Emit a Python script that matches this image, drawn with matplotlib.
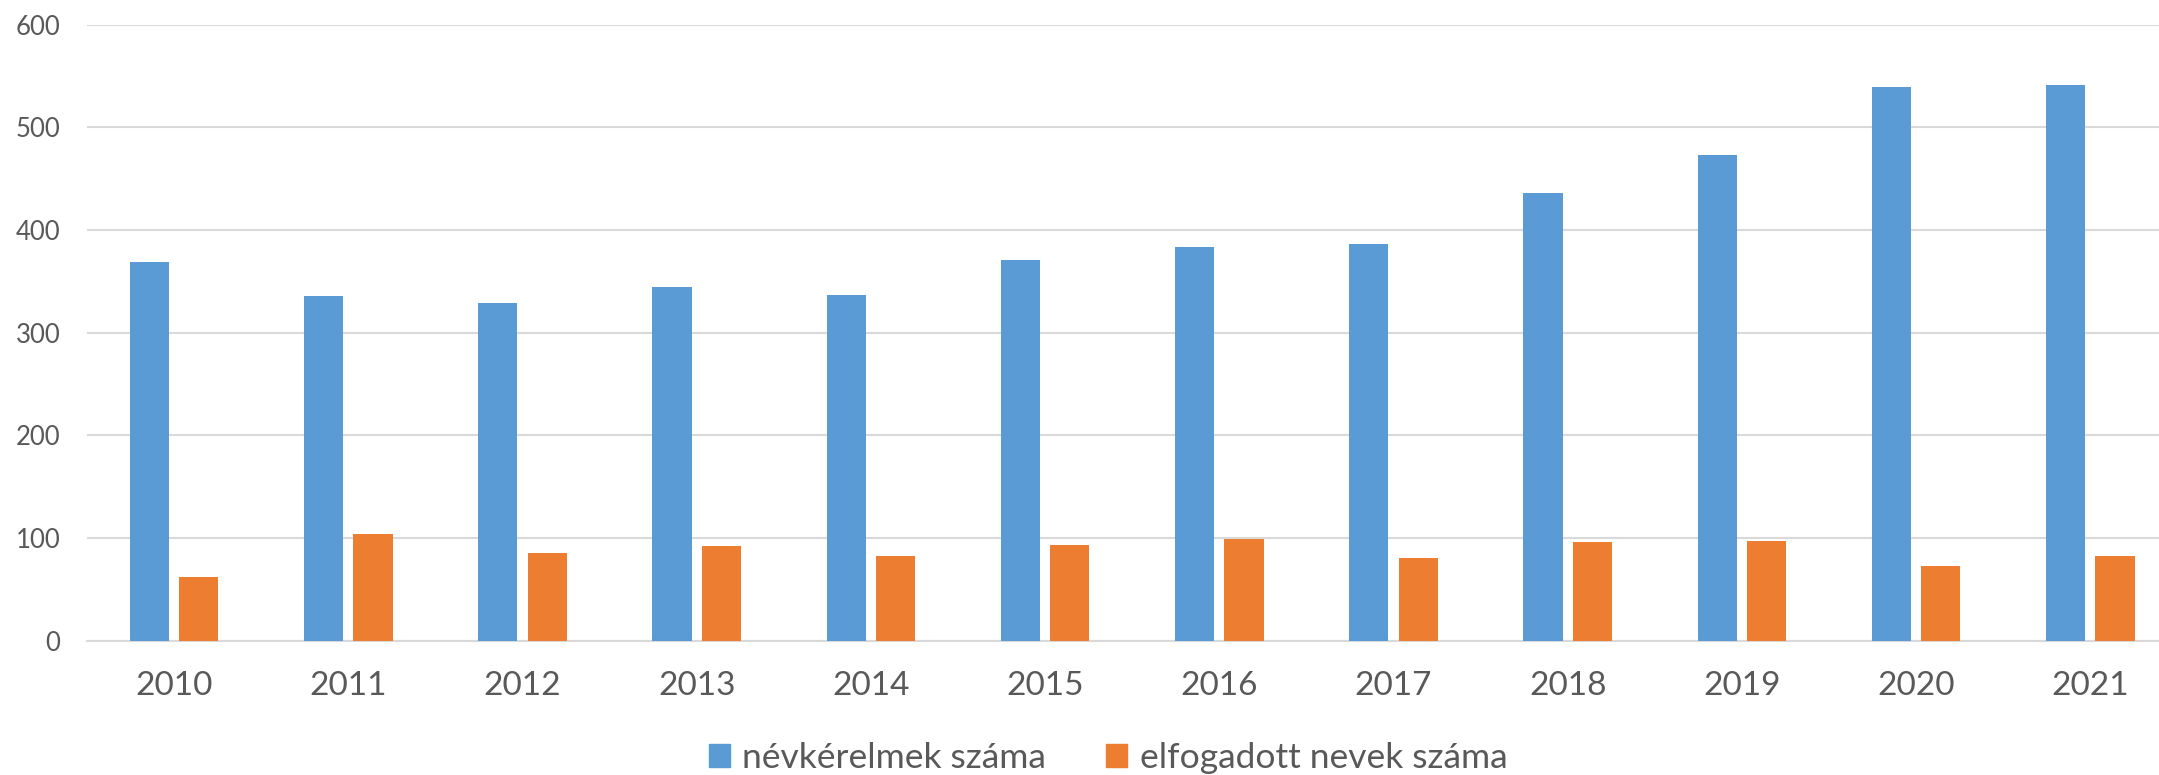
import matplotlib
matplotlib.use("Agg")
import matplotlib.pyplot as plt
import numpy as np
from matplotlib.patches import Patch

years = ["2010", "2011", "2012", "2013", "2014", "2015",
         "2016", "2017", "2018", "2019", "2020", "2021"]
requests = [369, 336, 329, 344, 337, 371, 383, 386, 436, 473, 539, 541]
accepted = [62, 104, 85, 92, 82, 93, 99, 80, 96, 97, 73, 82]
series_names = ["névkérelmek száma", "elfogadott nevek száma"]

BLUE = "#5B9BD5"
ORANGE = "#ED7D31"
GRID = "#D9D9D9"
TEXT = "#595959"

plt.rcParams['font.family'] = ['Lato', 'DejaVu Sans']

W, H = 2159, 775
fig = plt.figure(figsize=(W / 100, H / 100), dpi=100)
left = 87 / W
width = 12 * 174.2 / W
bottom = (H - 640.6) / H
top = (H - 24.6) / H
ax = fig.add_axes([left, bottom, width, top - bottom])

x = np.arange(len(years))
bw = 0.224
off = 0.1418
ax.bar(x - off, requests, bw, color=BLUE, zorder=3)
ax.bar(x + off, accepted, bw, color=ORANGE, zorder=3)

ax.set_xlim(-0.5, len(years) - 0.5)
ax.set_ylim(0, 600)
ax.set_yticks(np.arange(0, 601, 100))
ax.yaxis.grid(True, color=GRID, linewidth=1.5, zorder=0)
ax.set_axisbelow(True)
for s in ["left", "right", "top"]:
    ax.spines[s].set_visible(False)
ax.spines["bottom"].set_color(GRID)
ax.spines["bottom"].set_linewidth(1.5)

ax.set_xticks(x)
ax.set_xticklabels(years)
ax.tick_params(axis="x", length=0, pad=22, labelsize=24, labelcolor=TEXT)
ax.tick_params(axis="y", length=0, pad=19, labelsize=18.5, labelcolor=TEXT)

handles = [Patch(color=BLUE), Patch(color=ORANGE)]
fig.legend(handles, series_names, loc="center",
           bbox_to_anchor=(1108 / W, (H - 758) / H),
           ncol=2, frameon=False, fontsize=25.5, labelcolor=TEXT,
           handlelength=0.6, handleheight=0.6, handletextpad=0.35,
           columnspacing=1.7)

fig.savefig("out.png", dpi=100)
